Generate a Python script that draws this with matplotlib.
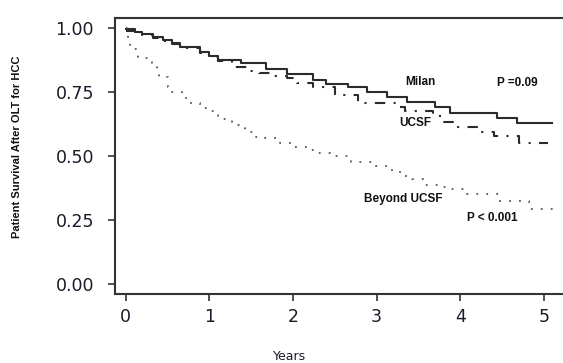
import matplotlib.pyplot as plt

# Kaplan-Meier step curves (years, survival)
milan_t = [0, 0.11, 0.19, 0.33, 0.45, 0.55, 0.65, 0.89, 1.00, 1.10, 1.38, 1.68, 1.93, 2.24, 2.40, 2.66,
           2.88, 3.12, 3.36, 3.70, 3.88, 4.44, 4.68, 5.10]
milan_s = [0.998, 0.986, 0.977, 0.966, 0.953, 0.943, 0.927, 0.908, 0.89, 0.875, 0.862, 0.842, 0.819, 0.797, 0.780, 0.768,
           0.751, 0.732, 0.712, 0.693, 0.667, 0.647, 0.628, 0.628]

ucsf_t = [0, 0.11, 0.19, 0.33, 0.45, 0.55, 0.65, 0.89, 1.00, 1.10, 1.27, 1.45, 1.60, 1.75, 1.93, 2.05, 2.24,
          2.50, 2.78, 3.25, 3.34, 3.68, 3.80, 3.94, 4.20, 4.40, 4.70, 5.05]
ucsf_s = [0.99, 0.982, 0.972, 0.962, 0.95, 0.938, 0.922, 0.903, 0.886, 0.872, 0.846, 0.834, 0.826, 0.812, 0.803, 0.784, 0.768,
          0.74, 0.706, 0.693, 0.674, 0.656, 0.634, 0.612, 0.595, 0.578, 0.552, 0.552]

beyond_t = [0, 0.01, 0.03, 0.05, 0.15, 0.31, 0.37, 0.40, 0.47, 0.50, 0.55, 0.67, 0.73, 0.89, 0.97, 1.05, 1.10, 1.27,
            1.35, 1.43, 1.55, 1.64, 1.84, 1.98, 2.18, 2.26, 2.44, 2.70, 2.98, 3.18, 3.34, 3.42, 3.56, 3.76, 3.84,
            4.08, 4.46, 4.82, 5.16]
beyond_s = [1.0, 0.973, 0.947, 0.92, 0.885, 0.862, 0.842, 0.81, 0.807, 0.77, 0.751, 0.725, 0.706, 0.686, 0.674, 0.66, 0.645, 0.621,
            0.608, 0.595, 0.573, 0.569, 0.552, 0.537, 0.523, 0.51, 0.498, 0.475, 0.459, 0.439, 0.422, 0.409, 0.387, 0.38, 0.37,
            0.352, 0.322, 0.292, 0.292]

y_ticks = [0.0, 0.25, 0.5, 0.75, 1.0]
y_labels = ["0.00", "0.25", "0.50", "0.75", "1.00"]
x_ticks = [0, 1, 2, 3, 4, 5]

fig = plt.figure(figsize=(5.63, 3.63), dpi=100)
ax = fig.add_axes([0.204, 0.19, 0.796, 0.76])

ax.step(milan_t, milan_s, where="post", color="#2b2b2b", lw=1.5)
ax.step(ucsf_t, ucsf_s, where="post", color="#2b2b2b", lw=1.5, linestyle=(0, (5, 4, 1, 4)))
ax.step(beyond_t, beyond_s, where="post", color="#555555", lw=1.3, linestyle=(0, (1, 4.5)))

ax.set_xlim(-0.13, 5.23)
ax.set_ylim(-0.04, 1.039)

ax.set_xticks(x_ticks)
ax.set_yticks(y_ticks)
ax.set_yticklabels(y_labels)
ax.tick_params(labelsize=12.5, labelcolor="#1a1a2a", color="#333333", length=5, width=1.2)
ax.tick_params(axis="x", pad=5)
ax.tick_params(axis="y", pad=10)

for s in ["left", "bottom", "top"]:
    ax.spines[s].set_linewidth(1.5)
    ax.spines[s].set_color("#333333")
ax.spines["right"].set_visible(False)

txt = dict(fontsize=8.5, fontweight="bold", family="Liberation Sans", color="#111111", va="center")
ax.text(3.52, 0.79, "Milan", ha="center", **txt)
ax.text(4.68, 0.784, "P =0.09", ha="center", **txt)
ax.text(3.46, 0.628, "UCSF", ha="center", **txt)
ax.text(3.32, 0.33, "Beyond UCSF", ha="center", **txt)
ax.text(4.38, 0.257, "P < 0.001", ha="center", **txt)

fig.text(0.031, 0.595, "Patient Survival After OLT for HCC", rotation=90, ha="center", va="center",
         fontsize=8, fontweight="bold", family="Liberation Sans", color="#111111")
fig.text(0.515, 0.017, "Years", ha="center", va="center", fontsize=9, color="#1a1a2a")

fig.savefig("out.png", dpi=100)
